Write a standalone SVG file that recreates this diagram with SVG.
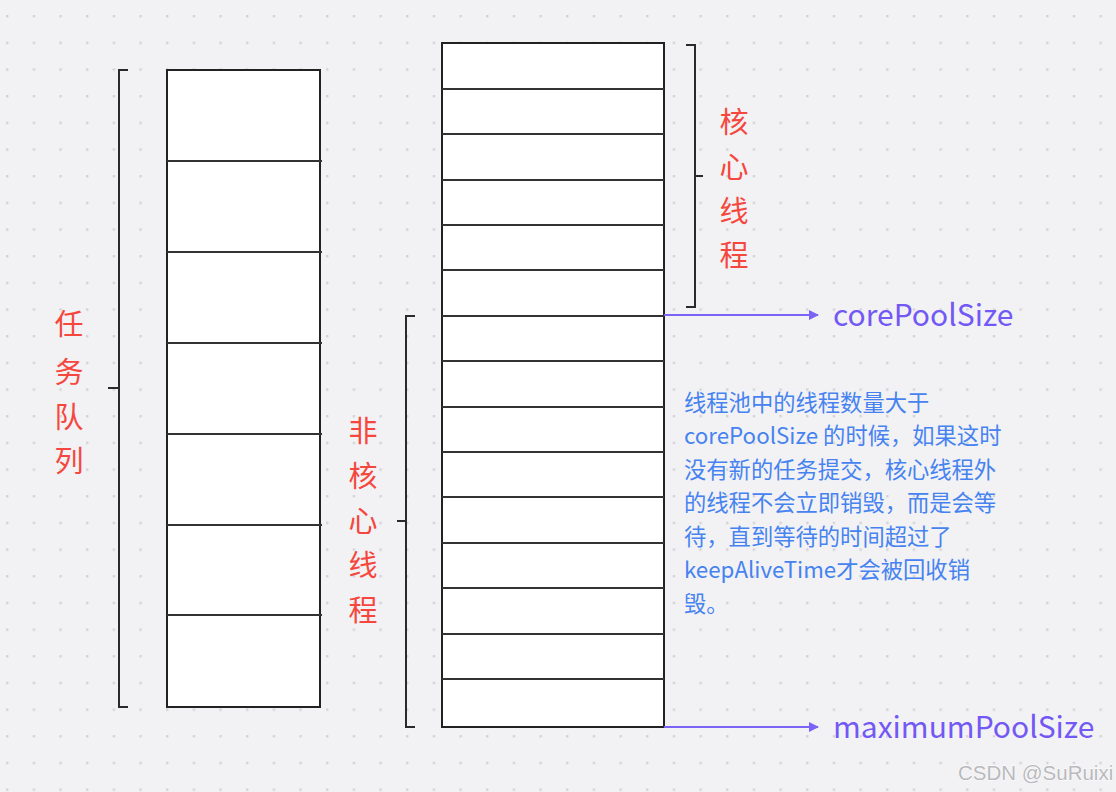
<svg xmlns="http://www.w3.org/2000/svg" width="1116" height="792" viewBox="0 0 1116 792">
<defs>
<pattern id="dots" x="6" y="15" width="26.67" height="26.67" patternUnits="userSpaceOnUse">
<rect x="0" y="0" width="2.4" height="2.4" fill="#d3d3d7"/>
</pattern>
<marker id="arr" viewBox="0 0 10 10" refX="9" refY="5" markerWidth="10" markerHeight="10" markerUnits="userSpaceOnUse" orient="auto">
<path d="M0,0 L10,5 L0,10 Z" fill="#7a63f6"/>
</marker>
<style>
.box{fill:#ffffff;stroke:#222222;stroke-width:2}
.row{stroke:#333333;stroke-width:2}
.br{fill:none;stroke:#2a2a2a;stroke-width:2}
.red{font-family:"Noto Sans CJK SC",sans-serif;font-size:29px;fill:#f5473d;text-anchor:middle}
.pur{font-family:"Noto Sans CJK SC",sans-serif;font-size:30px;fill:#7259f5}
.blue{font-family:"Noto Sans CJK SC",sans-serif;font-size:22.3px;fill:#4683f0}
.con{stroke:#7a63f6;stroke-width:2;fill:none}
</style>
</defs>
<rect width="1116" height="792" fill="#f2f2f4"/>
<rect width="1116" height="792" fill="url(#dots)"/>

<g id="task-queue">
<rect class="box" x="167" y="70" width="153" height="637"/>
<line class="row" x1="167" y1="161" x2="322" y2="161"/>
<line class="row" x1="167" y1="252" x2="322" y2="252"/>
<line class="row" x1="167" y1="343" x2="322" y2="343"/>
<line class="row" x1="167" y1="434" x2="322" y2="434"/>
<line class="row" x1="167" y1="525" x2="322" y2="525"/>
<line class="row" x1="167" y1="615" x2="322" y2="615"/>
</g>

<g id="task-queue-bracket">
<path class="br" d="M128,70 H119 V707 H128 M119,388 H108"/>
<text class="red" x="69" y="335">任</text>
<text class="red" x="69" y="383">务</text>
<text class="red" x="69" y="428">队</text>
<text class="red" x="69" y="472">列</text>
</g>

<g id="thread-pool">
<rect class="box" x="442" y="43" width="222" height="684"/>
<line class="row" x1="442" y1="89" x2="664" y2="89"/>
<line class="row" x1="442" y1="134" x2="664" y2="134"/>
<line class="row" x1="442" y1="180" x2="664" y2="180"/>
<line class="row" x1="442" y1="225" x2="664" y2="225"/>
<line class="row" x1="442" y1="270" x2="664" y2="270"/>
<line class="row" x1="442" y1="316" x2="664" y2="316"/>
<line class="row" x1="442" y1="361" x2="664" y2="361"/>
<line class="row" x1="442" y1="407" x2="664" y2="407"/>
<line class="row" x1="442" y1="452" x2="664" y2="452"/>
<line class="row" x1="442" y1="497" x2="664" y2="497"/>
<line class="row" x1="442" y1="543" x2="664" y2="543"/>
<line class="row" x1="442" y1="588" x2="664" y2="588"/>
<line class="row" x1="442" y1="634" x2="664" y2="634"/>
<line class="row" x1="442" y1="679" x2="664" y2="679"/>
</g>

<g id="core-bracket">
<path class="br" d="M686,45 H695 V307 H686 M695,176 H703"/>
<text class="red" x="734" y="133">核</text>
<text class="red" x="734" y="178">心</text>
<text class="red" x="734" y="222">线</text>
<text class="red" x="734" y="266">程</text>
</g>

<g id="noncore-bracket">
<path class="br" d="M415,316 H406 V727 H415 M406,521 H397"/>
<text class="red" x="363" y="442">非</text>
<text class="red" x="363" y="487">核</text>
<text class="red" x="363" y="532">心</text>
<text class="red" x="363" y="576">线</text>
<text class="red" x="363" y="621">程</text>
</g>

<g id="connectors">
<line class="con" x1="664" y1="315" x2="818" y2="315" marker-end="url(#arr)"/>
<line class="con" x1="664" y1="727" x2="818" y2="727" marker-end="url(#arr)"/>
</g>

<g id="core-size-label">
<text class="pur" x="833" y="326">corePoolSize</text>
</g>
<g id="max-size-label">
<text class="pur" x="833" y="738">maximumPoolSize</text>
</g>

<g id="note">
<text class="blue">
<tspan x="684" y="411">线程池中的线程数量大于</tspan>
<tspan x="684" y="444">corePoolSize 的时候，如果这时</tspan>
<tspan x="684" y="478">没有新的任务提交，核心线程外</tspan>
<tspan x="684" y="511">的线程不会立即销毁，而是会等</tspan>
<tspan x="684" y="545">待，直到等待的时间超过了</tspan>
<tspan x="684" y="578">keepAliveTime才会被回收销</tspan>
<tspan x="684" y="612">毁。</tspan>
</text>
</g>

<g id="watermark">
<text x="958" y="780" style="font-family:'Liberation Sans',sans-serif;font-size:20.5px;fill:#b9b9bd;stroke:#ffffff;stroke-width:0.8;paint-order:stroke">CSDN @SuRuixi</text>
</g>
</svg>
